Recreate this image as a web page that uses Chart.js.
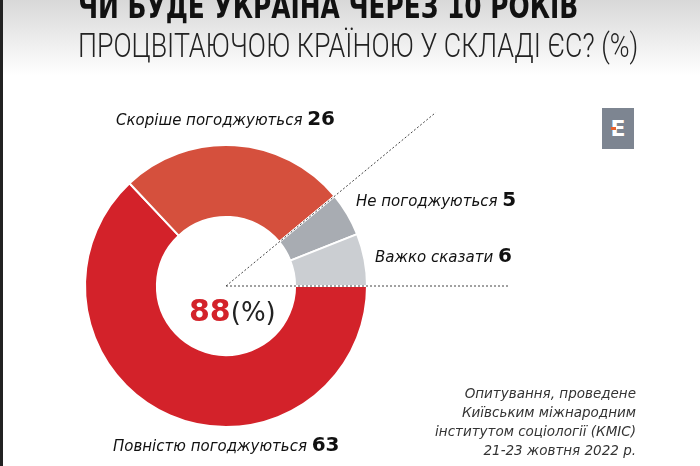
<!DOCTYPE html>
<html>
<head>
<meta charset="utf-8">
<script src="https://cdn.jsdelivr.net/npm/chart.js@4"></script>
<style>
  html, body { margin: 0; padding: 0; }
  body { width: 700px; height: 466px; position: relative; overflow: hidden; background: #fff; font-family: "DejaVu Sans Condensed", "DejaVu Sans", sans-serif; }
  #topband { position: absolute; left: 0; top: 0; width: 700px; height: 75px; background: linear-gradient(#d8d8d8, #ffffff); }
  #edge { position: absolute; left: 0; top: 0; width: 3px; height: 466px; background: #222; }
  canvas { position: absolute; left: 0; top: 0; }
  .t { position: absolute; white-space: nowrap; }
  #title1 { left: 78px; top: -14px; font-size: 34px; font-weight: bold; color: #111; transform-origin: 0 0; }
  #title2 { left: 78px; top: 25px; font-family: Roboto, "Open Sans", sans-serif; font-size: 34px; font-weight: 300; color: #222; transform-origin: 0 0; }
  .lbl { font-family: "DejaVu Sans", sans-serif; font-style: italic; font-size: 15px; color: #111; }
  .lbl b { font-style: normal; font-size: 20px; font-weight: bold; }
  #center { left: 189px; top: 293px; font-family: "DejaVu Sans", sans-serif; font-size: 26px; color: #222; }
  #center b { color: #d3222a; font-size: 30px; }
  #note { right: 64px; top: 384px; text-align: right; font-family: "DejaVu Sans", sans-serif; font-style: italic; font-size: 13.5px; line-height: 19px; color: #333; }
  #logo { position: absolute; left: 602px; top: 108px; width: 32px; height: 41px; background: #7d8591; color: #fff; font: bold 22px "DejaVu Sans", sans-serif; text-align: center; line-height: 41px; }
  #logo i { position: absolute; left: 9px; top: 19px; width: 5px; height: 3px; background: #e8622c; }
</style>
</head>
<body>
<div id="topband"></div>
<div id="edge"></div>
<canvas id="donutChart" width="700" height="466"></canvas>
<div class="t" id="title1">ЧИ БУДЕ УКРАЇНА ЧЕРЕЗ 10 РОКІВ</div>
<div class="t" id="title2">ПРОЦВІТАЮЧОЮ КРАЇНОЮ У СКЛАДІ ЄС? (%)</div>
<div class="t lbl" id="lbl0"></div>
<div class="t lbl" id="lbl1"></div>
<div class="t lbl" id="lbl2"></div>
<div class="t lbl" id="lbl3"></div>
<div class="t" id="center"><b>88</b>(%)</div>
<div class="t" id="note">Опитування, проведене<br>Київським міжнародним<br>інститутом соціології (КМІС)<br>21-23 жовтня 2022 р.</div>
<div id="logo">E<i></i></div>
<script>
// дані (порядок за годинниковою стрілкою від 3-ї години)
const categories = ['Повністю погоджуються', 'Скоріше погоджуються', 'Не погоджуються', 'Важко сказати'];
const values = [63, 26, 5, 6];
const sliceColors = ['#d3222a', '#d5503d', '#a8acb2', '#cbced2'];
const labelPos = [
  { left: 113, top: 432 },
  { left: 116, top: 106 },
  { left: 356, top: 187 },
  { left: 375, top: 243 }
];

categories.forEach((name, i) => {
  const el = document.getElementById('lbl' + i);
  el.innerHTML = `${name} <b>${values[i]}</b>`;
  el.style.left = labelPos[i].left + 'px';
  el.style.top = labelPos[i].top + 'px';
});

// стиснути заголовок до потрібної ширини
function fitWidth(id, w) {
  const el = document.getElementById(id);
  el.style.transform = `scaleX(${w / el.offsetWidth})`;
}
fitWidth('title1', 500);
fitWidth('title2', 560);

// пунктирні лінії від центру
const dashLines = {
  id: 'dashLines',
  afterDatasetsDraw(chart) {
    const arcs = chart.getDatasetMeta(0).data;
    const c = chart.ctx;
    const x = arcs[0].x, y = arcs[0].y, r = arcs[0].outerRadius;
    const a = arcs[1].endAngle;
    c.save();
    c.strokeStyle = '#444';
    c.lineWidth = 1;
    c.setLineDash([2, 2]);
    c.beginPath();
    c.moveTo(x, y);
    c.lineTo(x + Math.cos(a) * r * 1.93, y + Math.sin(a) * r * 1.93);
    c.moveTo(x, y);
    c.lineTo(x + r * 2.0, y);
    c.stroke();
    c.restore();
  }
};

new Chart(document.getElementById('donutChart'), {
  type: 'doughnut',
  data: {
    labels: categories,
    datasets: [{
      data: values,
      backgroundColor: sliceColors,
      borderColor: '#ffffff',
      borderWidth: 2
    }]
  },
  options: {
    responsive: false,
    animation: false,
    rotation: 90,
    cutout: '49%',
    layout: { padding: { left: 84, right: 332, top: 144, bottom: 38 } },
    plugins: {
      legend: { display: false },
      tooltip: { enabled: false }
    }
  },
  plugins: [dashLines]
});
</script>
</body>
</html>
